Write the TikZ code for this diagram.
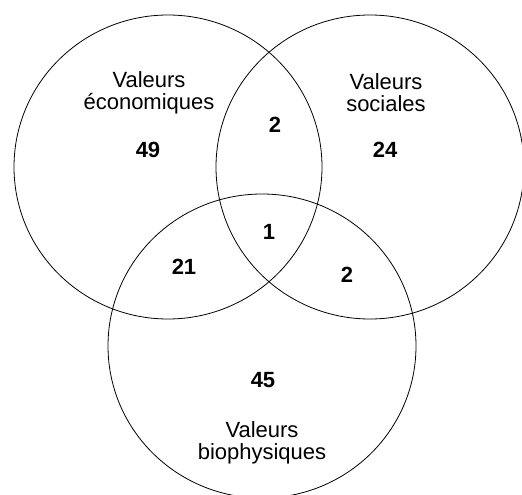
\documentclass[tikz,border=0pt]{standalone}
\usepackage{fontspec}
\setmainfont{Liberation Sans}
\tikzset{
  lbl/.style={align=center, inner sep=0pt, font=\fontsize{22}{22}\selectfont},
  num/.style={inner sep=0pt, font=\bfseries\fontsize{22}{22}\selectfont}
}
\begin{document}
\begin{tikzpicture}[x=1pt, y=-1pt, line width=0.8pt]
  \useasboundingbox (0,0) rectangle (522,495);
  % los tres circulos
  \draw (168,167) ellipse [x radius=154, y radius=152];
  \draw (370,167) ellipse [x radius=154, y radius=152];
  \draw (262,346) ellipse [x radius=154, y radius=152];
  % los nombres
  \node[lbl] (eco) at (149,93) {Valeurs\\économiques};
  \node[lbl] (soc) at (386,93) {Valeurs\\sociales};
  \node[lbl] (bio) at (262,443) {Valeurs\\biophysiques};
  % las cuentas
  \node[num] (n-eco) at (148,150) {49};
  \node[num] (n-soc) at (385,150) {24};
  \node[num] (n-bio) at (263,380) {45};
  \node[num] (n-ecosoc) at (275,125) {2};
  \node[num] (n-ecobio) at (184,267) {21};
  \node[num] (n-socbio) at (347,275) {2};
  \node[num] (n-all) at (269,232) {1};
\end{tikzpicture}
\end{document}
